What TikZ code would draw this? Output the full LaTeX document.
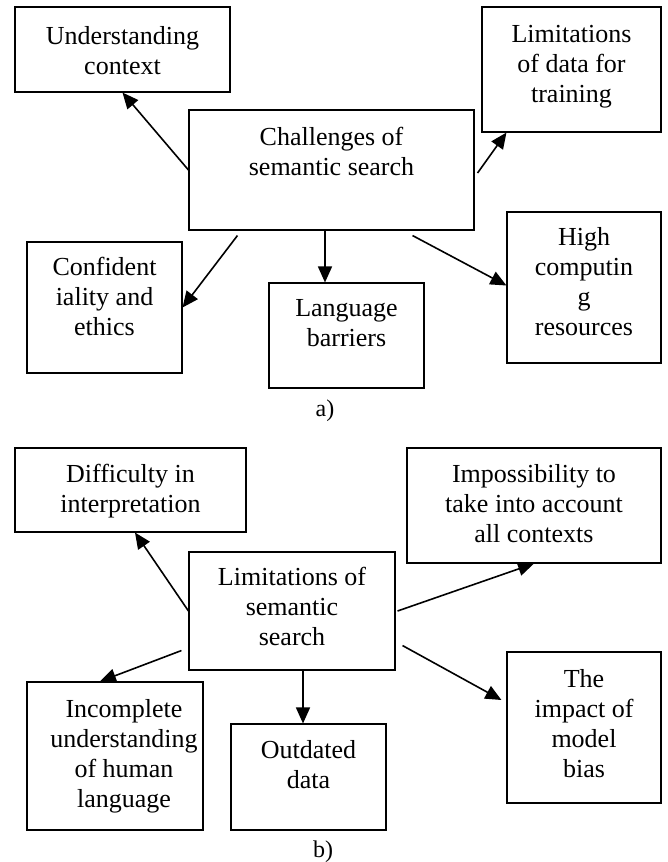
\documentclass[tikz,border=0pt]{standalone}
\usepackage{fontspec}
\setmainfont{Liberation Serif}
\usetikzlibrary{arrows.meta}
\begin{document}
\begin{tikzpicture}[x=1pt,y=-1pt,
  box/.style={draw,line width=1.1pt,inner sep=0pt,rectangle},
  txt/.style={align=center,inner sep=0pt,font=\fontsize{26}{30}\selectfont,
    execute at begin node=\strut,execute at end node=\strut},
  panellabel/.style={inner sep=0pt,font=\fontsize{24}{28}\selectfont},
  arr/.style={line width=1.6pt,-{Triangle[length=16pt,width=14pt]}}]
\useasboundingbox (0,0) rectangle (668,862);
% ---------- panel a ----------
\node[box,minimum width=215pt,minimum height=85pt] (uc) at (122.5,49.5) {};
\node[txt] (uct) at (122.5,55) {Understanding\\context};
\node[box,minimum width=285pt,minimum height=120pt] (c1) at (331.5,170) {};
\node[txt] (c1t) at (331.5,156) {Challenges of\\semantic search};
\node[box,minimum width=179pt,minimum height=125pt] (lim) at (571.5,69.5) {};
\node[txt] (limt) at (571.5,68) {Limitations\\of data for\\training};
\node[box,minimum width=155pt,minimum height=131pt] (conf) at (104.5,307.5) {};
\node[txt] (conft) at (104.5,301) {Confident\\iality and\\ethics};
\node[box,minimum width=155pt,minimum height=105pt] (lb) at (346.5,335.5) {};
\node[txt] (lbt) at (346.5,327) {Language\\barriers};
\node[box,minimum width=154pt,minimum height=151pt] (hc) at (584,287.5) {};
\node[txt] (hct) at (584,286) {High\\computin\\g\\resources};
\node[panellabel] (la) at (325,411) {a)};
\draw[arr] (c1.west) -- (uc.south);
\draw[arr] ([xshift=3pt,yshift=-3pt]c1.east) -- ([xshift=25pt]lim.south west);
\draw[arr] ([xshift=49pt,yshift=-5pt]c1.south west) -- (conf.east);
\draw[arr] ([xshift=-6.5pt]c1.south) -- ([xshift=-21.5pt]lb.north);
\draw[arr] ([xshift=-62pt,yshift=-5pt]c1.south east) -- ([yshift=2pt]hc.west);
% ---------- panel b ----------
\node[box,minimum width=231pt,minimum height=84pt] (di) at (130.5,490) {};
\node[txt] (dit) at (130.5,493) {Difficulty in\\interpretation};
\node[box,minimum width=206pt,minimum height=118pt] (c2) at (292,611) {};
\node[txt] (c2t) at (292,611) {Limitations of\\semantic\\search};
\node[box,minimum width=254pt,minimum height=115pt] (im) at (534,505.5) {};
\node[txt] (imt) at (534,508) {Impossibility to\\take into account\\all contexts};
\node[box,minimum width=176pt,minimum height=148pt] (inc) at (115,756) {};
\node[txt] (inct) at (124,758) {Incomplete\\understanding\\of human\\language};
\node[box,minimum width=155pt,minimum height=106pt] (od) at (308.5,777) {};
\node[txt] (odt) at (308.5,769) {Outdated\\data};
\node[box,minimum width=154pt,minimum height=151pt] (imp) at (584,727.5) {};
\node[txt] (impt) at (584,727.5) {The\\impact of\\model\\bias};
\node[panellabel] (lbb) at (323,852) {b)};
\draw[arr] (c2.west) -- ([xshift=4.5pt]di.south);
\draw[arr] ([xshift=2pt]c2.east) -- (im.south);
\draw[arr] ([xshift=-7pt,yshift=20pt]c2.south west) -- ([xshift=-15pt]inc.north);
\draw[arr] ([xshift=11pt]c2.south) -- ([xshift=-5.5pt]od.north);
\draw[arr] ([xshift=7pt,yshift=25pt]c2.south east) -- ([xshift=-5pt,yshift=27.5pt]imp.west);
\end{tikzpicture}
\end{document}
